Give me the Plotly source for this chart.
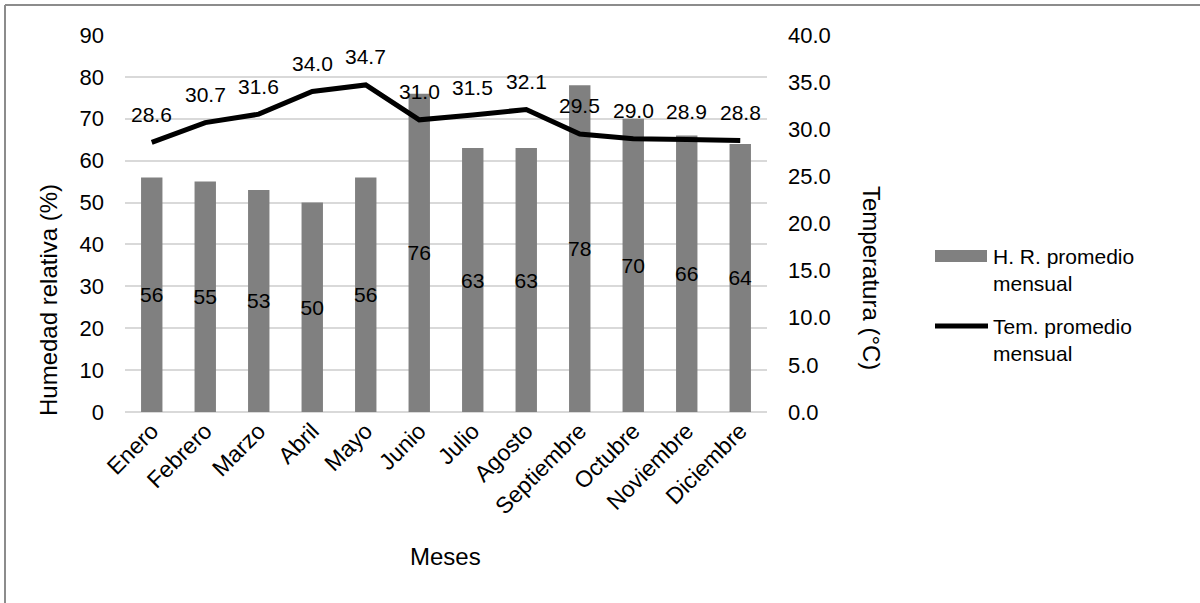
import plotly.graph_objects as go

months = ["Enero", "Febrero", "Marzo", "Abril", "Mayo", "Junio", "Julio",
          "Agosto", "Septiembre", "Octubre", "Noviembre", "Diciembre"]
humedad = [56, 55, 53, 50, 56, 76, 63, 63, 78, 70, 66, 64]
temperatura = [28.6, 30.7, 31.6, 34.0, 34.7, 31.0, 31.5, 32.1, 29.5, 29.0, 28.9, 28.8]

FONT = "Liberation Sans, Arial, sans-serif"
W, H = 1200, 603
L, R, T, B = 125, 767, 35, 412


def px(x):
    return (x - L) / (R - L)


def py(y):
    return (B - y) / (B - T)


def txt(size):
    return dict(family=FONT, size=size, color="#000000")


fig = go.Figure()
fig.add_trace(go.Bar(
    x=months, y=humedad, name="H. R. promedio mensual",
    marker=dict(color="#808080", line=dict(width=0)),
    width=0.4,
    text=[str(v) for v in humedad], textposition="inside",
    insidetextanchor="middle", textangle=0, constraintext="none",
    textfont=txt(21),
    yaxis="y",
))
fig.add_trace(go.Scatter(
    x=months, y=temperatura, name="Tem. promedio mensual",
    mode="lines", line=dict(color="#000000", width=5),
    yaxis="y2", cliponaxis=False,
))

annotations = [
    dict(x=m, y=t, xref="x", yref="y2", text=f"{t:.1f}", showarrow=False,
         yshift=28, font=txt(21))
    for m, t in zip(months, temperatura)
]
annotations += [
    dict(text="Humedad relativa (%)", xref="paper", yref="paper",
         x=px(48), y=py(300), xanchor="center", yanchor="middle",
         textangle=-90, showarrow=False, font=txt(24)),
    dict(text="Temperatura (°C)", xref="paper", yref="paper",
         x=px(872), y=py(278), xanchor="center", yanchor="middle",
         textangle=90, showarrow=False, font=txt(24)),
    dict(text="Meses", xref="paper", yref="paper",
         x=px(445), y=py(556), xanchor="center", yanchor="middle",
         showarrow=False, font=txt(24)),
]
for label, yc in [("H. R. promedio", 256), ("mensual", 283),
                  ("Tem. promedio", 326), ("mensual", 353)]:
    annotations.append(dict(text=label, xref="paper", yref="paper",
                            x=px(991), y=py(yc), xanchor="left", yanchor="middle",
                            showarrow=False, font=txt(21)))

fig.update_layout(
    width=W, height=H,
    margin=dict(l=L, r=W - R, t=T, b=H - B, autoexpand=False),
    paper_bgcolor="white", plot_bgcolor="white",
    font=txt(20),
    showlegend=False,
    xaxis=dict(tickangle=-45, showgrid=False, showline=False, ticks="", automargin=False,
               tickfont=txt(23)),
    yaxis=dict(range=[0, 90], dtick=10, showgrid=True, gridcolor="#d9d9d9", gridwidth=1.5,
               zeroline=True, zerolinecolor="#d9d9d9", zerolinewidth=1.5, automargin=False,
               showline=False, ticks="", ticklabelstandoff=20,
               tickfont=txt(22)),
    yaxis2=dict(range=[0, 40], dtick=5, overlaying="y", side="right", showgrid=False,
                zeroline=False, showline=False, ticks="", tickformat=".1f",
                ticklabelstandoff=20, automargin=False,
                tickfont=txt(22)),
    annotations=annotations,
    shapes=[
        dict(type="line", xref="paper", yref="paper",
             x0=px(5), x1=px(1210), y0=py(5), y1=py(5),
             line=dict(color="#8c8c8c", width=2)),
        dict(type="line", xref="paper", yref="paper",
             x0=px(5), x1=px(5), y0=py(5), y1=py(620),
             line=dict(color="#8c8c8c", width=2)),
        dict(type="rect", xref="paper", yref="paper",
             x0=px(935), x1=px(987), y0=py(250), y1=py(262),
             fillcolor="#808080", line=dict(width=0)),
        dict(type="line", xref="paper", yref="paper",
             x0=px(935), x1=px(988), y0=py(326), y1=py(326),
             line=dict(color="#000000", width=5)),
    ],
)

fig.write_html(
    "out.html",
    config={"displayModeBar": False},
    post_script="document.body.style.margin='0px';document.body.style.overflow='hidden';",
)
